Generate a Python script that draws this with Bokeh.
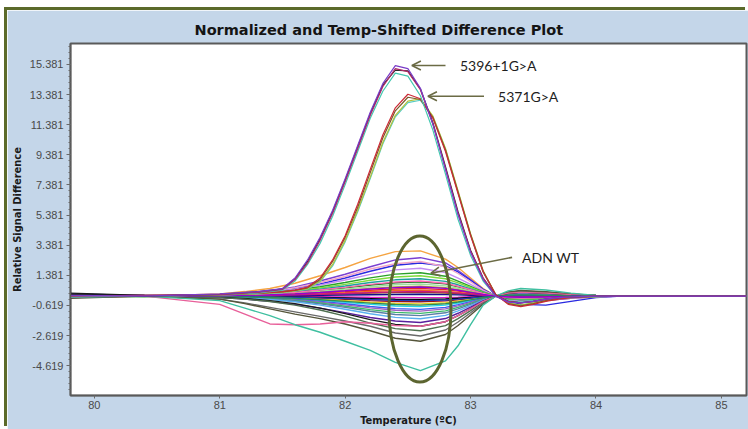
import numpy as np
from bokeh.plotting import figure
from bokeh.models import Range1d, FixedTicker, NumeralTickFormatter, Arrow, OpenHead
from bokeh.core.properties import value
from bokeh.embed import file_html
from bokeh.resources import INLINE

# ---------------------------------------------------------------- data
# temperature grid (deg C) shared by the wild-type difference curves
temps_wt = [79.8, 80.4, 81.0, 81.2, 81.4, 81.6, 81.8, 82.0, 82.2, 82.4, 82.6, 82.8,
            82.9, 83.0, 83.1, 83.2, 83.3, 83.4, 83.6, 83.8, 84.0, 84.2, 84.7, 85.2]

# temperature grid used by the mutant curves (finer around the peaks)
temps_mut = [79.8, 80.4, 81.0, 81.3, 81.5, 81.6, 81.7, 81.8, 81.9, 82.0, 82.1, 82.2,
             82.3, 82.4, 82.5, 82.6, 82.7, 82.8, 82.9, 83.0, 83.1, 83.2, 83.3, 83.4,
             83.5, 83.6, 83.7, 83.8, 84.0, 84.4, 85.2]

# wild-type samples (ADN WT): relative signal difference on temps_wt
wt_01 = [0.05, 0.0, 0.15, 0.3, 0.5, 0.85, 1.35, 1.9, 2.5, 2.95, 3.0, 2.45, 1.9, 1.2, 0.5, 0.0, -0.3, -0.4, -0.3, -0.15, -0.05, 0.0, 0.0, 0.0]
wt_02 = [0.0, 0.05, 0.1, 0.2, 0.35, 0.6, 1.0, 1.45, 1.95, 2.4, 2.55, 2.2, 1.7, 1.1, 0.45, 0.0, -0.3, -0.4, -0.3, -0.15, -0.05, 0.0, 0.0, 0.0]
wt_03 = [-0.05, 0.0, 0.1, 0.2, 0.3, 0.5, 0.8, 1.2, 1.65, 2.05, 2.2, 2.0, 1.6, 1.05, 0.45, 0.0, -0.35, -0.55, -0.6, -0.35, -0.1, 0.0, 0.0, 0.0]
wt_04 = [0.0, 0.0, 0.05, 0.15, 0.3, 0.55, 0.9, 1.3, 1.8, 2.15, 2.3, 1.95, 1.5, 0.95, 0.4, 0.0, -0.25, -0.35, -0.25, -0.12, -0.04, 0.0, 0.0, 0.0]
wt_05 = [0.05, 0.0, 0.08, 0.15, 0.28, 0.46, 0.74, 1.07, 1.44, 1.74, 1.85, 1.57, 1.2, 0.78, 0.33, 0.0, -0.22, -0.3, -0.22, -0.11, -0.04, 0.0, 0.0, 0.0]
wt_06 = [0.0, -0.05, 0.06, 0.12, 0.23, 0.39, 0.62, 0.9, 1.21, 1.46, 1.55, 1.32, 1.0, 0.65, 0.28, 0.0, -0.18, -0.25, -0.19, -0.09, -0.03, 0.0, 0.0, 0.0]
wt_07 = [0.0, 0.0, 0.05, 0.11, 0.2, 0.34, 0.54, 0.78, 1.05, 1.27, 1.35, 1.15, 0.88, 0.57, 0.24, 0.0, -0.16, -0.22, -0.16, -0.08, -0.03, 0.0, 0.0, 0.0]
wt_08 = [0.05, 0.05, 0.05, 0.09, 0.17, 0.29, 0.46, 0.67, 0.9, 1.08, 1.15, 0.98, 0.75, 0.48, 0.21, 0.0, -0.14, -0.18, -0.14, -0.07, -0.02, 0.0, 0.03, 0.0]
wt_09 = [0.1, 0.0, 0.04, 0.08, 0.14, 0.24, 0.38, 0.55, 0.74, 0.89, 0.95, 0.81, 0.62, 0.4, 0.17, 0.0, -0.11, -0.15, -0.11, -0.06, -0.02, 0.0, 0.0, 0.0]
wt_10 = [0.0, 0.05, 0.03, 0.06, 0.12, 0.2, 0.32, 0.46, 0.62, 0.75, 0.8, 0.68, 0.52, 0.34, 0.14, 0.0, -0.1, -0.13, -0.1, -0.05, -0.02, 0.0, 0.0, 0.0]
wt_11 = [0.0, 0.0, 0.03, 0.05, 0.1, 0.16, 0.26, 0.38, 0.51, 0.61, 0.65, 0.55, 0.42, 0.27, 0.12, 0.0, -0.08, -0.1, -0.08, -0.04, -0.01, 0.0, 0.0, 0.0]
wt_12 = [-0.05, 0.0, 0.02, 0.04, 0.08, 0.13, 0.2, 0.29, 0.39, 0.47, 0.5, 0.43, 0.33, 0.21, 0.09, 0.0, -0.06, -0.08, -0.06, -0.03, -0.01, 0.0, 0.0, 0.0]
wt_13 = [0.0, 0.0, 0.02, 0.03, 0.06, 0.1, 0.15, 0.22, 0.3, 0.36, 0.38, 0.32, 0.25, 0.16, 0.07, 0.0, -0.05, -0.06, -0.05, -0.02, 0.0, 0.0, 0.0, 0.0]
wt_14 = [0.05, 0.0, 0.01, 0.02, 0.04, 0.06, 0.1, 0.15, 0.2, 0.24, 0.25, 0.21, 0.16, 0.11, 0.05, 0.0, -0.03, -0.04, -0.03, -0.02, 0.0, 0.0, 0.0, 0.0]
wt_15 = [0.15, 0.05, 0.0, 0.01, 0.02, 0.03, 0.05, 0.07, 0.09, 0.11, 0.12, 0.1, 0.08, 0.05, 0.02, 0.0, -0.02, -0.02, -0.02, -0.01, 0.0, 0.0, 0.0, 0.0]
wt_16 = [0.0, 0.0, 0.0, -0.01, -0.02, -0.03, -0.04, -0.06, -0.08, -0.09, -0.1, -0.09, -0.07, -0.04, -0.02, 0.0, 0.01, 0.01, 0.01, 0.0, 0.0, 0.0, 0.0, 0.0]
wt_17 = [0.1, 0.0, -0.01, -0.02, -0.03, -0.06, -0.09, -0.13, -0.17, -0.21, -0.22, -0.19, -0.14, -0.09, -0.04, 0.0, 0.02, 0.03, 0.02, 0.01, 0.0, 0.0, 0.0, 0.0]
wt_18 = [-0.1, 0.0, -0.02, -0.03, -0.06, -0.1, -0.15, -0.22, -0.3, -0.36, -0.38, -0.32, -0.25, -0.16, -0.07, 0.0, 0.04, 0.05, 0.04, 0.02, 0.0, 0.0, 0.0, 0.0]
wt_19 = [0.0, 0.0, -0.02, -0.04, -0.08, -0.13, -0.21, -0.3, -0.41, -0.49, -0.52, -0.44, -0.34, -0.22, -0.09, 0.0, 0.05, 0.07, 0.05, 0.03, 0.01, 0.0, 0.0, 0.0]
wt_20 = [0.05, 0.0, -0.03, -0.06, -0.11, -0.18, -0.28, -0.41, -0.55, -0.66, -0.7, -0.6, -0.46, -0.29, -0.13, 0.0, 0.07, 0.09, 0.07, 0.04, 0.01, 0.0, 0.0, 0.0]
wt_21 = [0.0, 0.0, -0.04, -0.07, -0.13, -0.22, -0.35, -0.51, -0.69, -0.83, -0.88, -0.75, -0.57, -0.37, -0.16, 0.0, 0.08, 0.11, 0.09, 0.05, 0.02, 0.0, 0.0, 0.0]
wt_22 = [-0.05, 0.0, -0.04, -0.08, -0.15, -0.25, -0.4, -0.58, -0.78, -0.94, -1.0, -0.85, -0.65, -0.42, -0.18, 0.0, 0.09, 0.13, 0.1, 0.05, 0.02, 0.0, 0.0, 0.0]
wt_23 = [0.0, 0.0, -0.05, -0.09, -0.17, -0.29, -0.46, -0.67, -0.9, -1.08, -1.15, -0.98, -0.75, -0.48, -0.21, 0.0, 0.1, 0.15, 0.11, 0.06, 0.02, 0.0, 0.0, 0.0]
wt_24 = [0.0, 0.05, -0.05, -0.1, -0.2, -0.33, -0.52, -0.75, -1.01, -1.22, -1.3, -1.11, -0.85, -0.55, -0.23, 0.0, 0.12, 0.17, 0.13, 0.07, 0.03, 0.0, 0.0, 0.0]
wt_25 = [0.0, 0.0, -0.06, -0.12, -0.23, -0.38, -0.6, -0.87, -1.17, -1.41, -1.5, -1.28, -0.98, -0.63, -0.27, 0.0, 0.14, 0.2, 0.15, 0.08, 0.03, 0.0, 0.0, 0.0]
wt_26 = [0.0, 0.0, -0.1, -0.2, -0.35, -0.55, -0.8, -1.1, -1.42, -1.65, -1.75, -1.49, -1.14, -0.74, -0.32, 0.0, 0.16, 0.23, 0.17, 0.09, 0.03, 0.0, 0.0, 0.0]
wt_27 = [0.2, 0.05, -0.08, -0.16, -0.3, -0.5, -0.8, -1.16, -1.56, -1.88, -2.0, -1.7, -1.3, -0.84, -0.36, 0.0, 0.18, 0.26, 0.2, 0.1, 0.04, 0.0, 0.0, 0.0]
wt_28 = [0.0, 0.0, -0.1, -0.2, -0.36, -0.6, -0.92, -1.33, -1.79, -2.16, -2.3, -1.96, -1.5, -0.97, -0.41, 0.0, 0.21, 0.3, 0.22, 0.12, 0.04, 0.0, 0.0, 0.0]
wt_29 = [0.0, 0.0, -0.2, -0.45, -0.75, -1.05, -1.35, -1.65, -2.0, -2.45, -2.65, -2.25, -1.72, -1.11, -0.48, 0.0, 0.24, 0.34, 0.26, 0.13, 0.05, 0.0, 0.0, 0.0]
wt_30 = [-0.15, 0.0, -0.2, -0.5, -0.85, -1.2, -1.5, -1.85, -2.3, -2.8, -3.0, -2.55, -1.95, -1.26, -0.54, 0.0, 0.27, 0.38, 0.29, 0.15, 0.05, 0.0, 0.0, 0.0]
wt_31 = [0.0, 0.0, -0.55, -1.2, -1.85, -1.9, -1.85, -1.7, -1.8, -1.95, -2.0, -1.7, -1.3, -0.85, -0.35, 0.0, 0.2, 0.25, 0.2, 0.1, 0.03, 0.0, 0.0, 0.0]
wt_32 = [0.0, 0.0, -0.3, -0.8, -1.3, -1.9, -2.4, -3.0, -3.6, -4.4, -4.95, -4.3, -3.3, -1.9, -0.6, 0.0, 0.35, 0.5, 0.4, 0.2, 0.05, 0.0, 0.0, 0.0]
wt_33 = [0.0, 0.0, 0.01, 0.02, 0.05, 0.08, 0.12, 0.17, 0.23, 0.28, 0.3, 0.26, 0.2, 0.13, 0.05, 0.0, -0.03, -0.04, -0.03, -0.02, 0.0, 0.0, 0.0, 0.0]
wt_34 = [0.0, 0.0, -0.01, -0.02, -0.05, -0.08, -0.12, -0.17, -0.23, -0.28, -0.3, -0.26, -0.2, -0.13, -0.05, 0.0, 0.03, 0.04, 0.03, 0.02, 0.0, 0.0, 0.0, 0.0]
wt_35 = [0.0, 0.0, 0.04, 0.08, 0.15, 0.25, 0.4, 0.58, 0.78, 0.94, 1.0, 0.85, 0.65, 0.42, 0.18, 0.0, -0.09, -0.13, -0.1, -0.05, -0.02, 0.0, 0.0, 0.0]
wt_36 = [0.0, 0.0, -0.02, -0.05, -0.09, -0.15, -0.24, -0.35, -0.47, -0.56, -0.6, -0.51, -0.39, -0.25, -0.11, 0.0, 0.06, 0.08, 0.06, 0.03, 0.01, 0.0, 0.0, 0.0]
wt_37 = [0.0, 0.0, 0.02, 0.05, 0.09, 0.15, 0.24, 0.35, 0.47, 0.56, 0.6, 0.51, 0.39, 0.25, 0.11, 0.0, -0.06, -0.08, -0.06, -0.03, -0.01, 0.0, 0.0, 0.0]

wt_series = [wt_01, wt_02, wt_03, wt_04, wt_05, wt_06, wt_07, wt_08, wt_09, wt_10,
             wt_11, wt_12, wt_13, wt_14, wt_15, wt_16, wt_17, wt_18, wt_19, wt_20,
             wt_21, wt_22, wt_23, wt_24, wt_25, wt_26, wt_27, wt_28, wt_29, wt_30,
             wt_31, wt_32, wt_33, wt_34, wt_35, wt_36, wt_37]
wt_colors = ["#f5a442", "#7b3fd1", "#2a2ae0", "#f2a6c8", "#c38bf2", "#2aa02a", "#7fdc3c",
             "#1f9e9e", "#0b6b0b", "#9fe09f", "#a8a83a", "#e3262a", "#f26522", "#8b4513",
             "#10108a", "#e020c8", "#000000", "#a01010", "#e8d020", "#22d8e8", "#3a5ef0",
             "#a060c0", "#3cb86a", "#5b7fa6", "#5ab0f0", "#5a1f9e", "#1a1a1a", "#4f6f4f",
             "#6a6a6a", "#55553a", "#e8609a", "#3fbfa0", "#c71585", "#1e3cb4", "#ff69b4",
             "#2e8b57", "#9400d3"]

# 5396+1G>A samples on temps_mut
m1_a = [0.05, 0.0, 0.15, 0.3, 0.5, 1.2, 2.4, 3.9, 5.7, 7.8, 10.0, 12.2, 14.1, 15.3, 15.1, 13.8, 11.4, 8.4, 5.4, 2.9, 1.1, 0.0, -0.4, -0.45, -0.35, -0.2, -0.1, -0.05, 0.0, 0.0, 0.0]
m1_b = [0.0, 0.05, 0.1, 0.25, 0.45, 1.1, 2.2, 3.7, 5.5, 7.6, 9.8, 12.0, 13.9, 15.1, 14.9, 13.7, 11.4, 8.5, 5.5, 3.0, 1.2, 0.05, -0.35, -0.45, -0.35, -0.2, -0.1, -0.05, 0.0, 0.0, 0.0]
m1_c = [0.1, 0.0, 0.12, 0.28, 0.48, 1.15, 2.3, 3.8, 5.6, 7.7, 9.9, 12.1, 14.0, 15.0, 14.95, 13.75, 11.5, 8.6, 5.6, 3.05, 1.2, 0.05, -0.35, -0.45, -0.35, -0.2, -0.1, -0.05, 0.0, 0.0, 0.0]
m1_d = [-0.05, 0.0, 0.1, 0.2, 0.4, 1.0, 2.1, 3.5, 5.3, 7.4, 9.6, 11.8, 13.6, 14.8, 14.6, 13.3, 11.0, 8.1, 5.1, 2.7, 1.0, 0.0, -0.3, -0.4, -0.3, -0.2, -0.1, -0.05, 0.0, 0.0, 0.0]

# 5371G>A samples on temps_mut
m2_a = [0.0, 0.05, 0.1, 0.2, 0.3, 0.4, 0.6, 1.2, 2.4, 4.0, 6.1, 8.4, 10.7, 12.5, 13.4, 13.1, 11.8, 9.6, 6.8, 4.0, 1.6, 0.1, -0.55, -0.7, -0.55, -0.35, -0.2, -0.1, 0.0, 0.0, 0.0]
m2_b = [0.05, 0.0, 0.1, 0.18, 0.28, 0.38, 0.55, 1.1, 2.3, 3.9, 5.9, 8.2, 10.5, 12.3, 13.2, 13.05, 11.85, 9.7, 6.9, 4.1, 1.65, 0.1, -0.5, -0.65, -0.5, -0.3, -0.15, -0.05, 0.0, 0.0, 0.0]
m2_c = [0.0, 0.0, 0.08, 0.15, 0.25, 0.35, 0.5, 1.0, 2.1, 3.7, 5.7, 7.9, 10.2, 12.0, 12.95, 13.1, 11.95, 9.8, 7.0, 4.15, 1.7, 0.1, -0.45, -0.6, -0.45, -0.3, -0.15, -0.05, 0.0, 0.0, 0.0]
m2_d = [-0.05, 0.0, 0.08, 0.15, 0.22, 0.32, 0.48, 0.95, 2.0, 3.6, 5.6, 7.8, 10.1, 11.9, 12.85, 13.0, 11.9, 9.75, 6.9, 4.05, 1.6, 0.05, -0.45, -0.6, -0.45, -0.3, -0.15, -0.05, 0.0, 0.0, 0.0]

mut_series = [m2_d, m2_c, m2_b, m2_a, m1_d, m1_c, m1_b, m1_a]
mut_colors = ["#55ccc4", "#b5c23a", "#7a5a2a", "#cc2a36", "#44c8b0", "#2a2a2a", "#b02a66", "#7a3cc8"]

# axis ticks
x_ticks = [80, 81, 82, 83, 84, 85]
y_ticks = [-4.619, -2.619, -0.619, 1.381, 3.381, 5.381, 7.381, 9.381, 11.381, 13.381, 15.381]

# annotations: label text, label anchor (x, y), arrow start, arrow end
ann_texts = ["5396+1G>A", "5371G>A", "ADN WT"]
ann_text_x = [82.915, 83.219, 83.41]
ann_text_y = [15.31, 13.27, 2.57]
arrow_x0 = [82.80, 83.107, 83.331]
arrow_y0 = [15.31, 13.27, 2.57]
arrow_x1 = [82.532, 82.66, 82.684]
arrow_y1 = [15.31, 13.27, 1.52]
# ring drawn round the wild-type bundle
ring_x, ring_y, ring_w, ring_h = 82.596, -0.86, 0.495, 9.70

# ---------------------------------------------------------------- figure
PANEL = "#c4d6e9"
p = figure(width=741, height=419, output_backend="svg", toolbar_location=None,
           x_range=Range1d(79.81, 85.2), y_range=Range1d(-6.6, 16.77),
           min_border_left=63, min_border_right=2, min_border_top=33, min_border_bottom=32,
           background_fill_color="white", border_fill_color=PANEL)
p.margin = (10, 0, 0, 7)
p.styles = {"box-shadow": "-3px -3px 0 0 #5b6a2a"}

p.title.text = "Normalized and Temp-Shifted Difference Plot"
p.title.align = "left"
p.title.offset = 124
p.title.text_font = "DejaVu Sans"
p.title.text_font_style = "bold"
p.title.text_font_size = "14.5px"
p.title.text_color = "#141414"
p.title.standoff = 11

p.outline_line_color = "#5a5a5a"
p.outline_line_width = 2
p.xgrid.visible = False
p.ygrid.visible = False

label_font = "'Liberation Sans Narrow', 'DejaVu Sans Condensed', sans-serif"
for ax in (p.xaxis[0], p.yaxis[0]):
    ax.axis_line_color = "#5a5a5a"
    ax.axis_line_width = 1.5
    ax.major_tick_line_color = "#6a6a6a"
    ax.minor_tick_line_color = "#6a6a6a"
    ax.major_label_text_font = "Liberation Sans"
    ax.major_label_text_font_size = "11px"
    ax.major_label_text_color = "#4a4a4a"
    ax.axis_label_text_font = label_font
    ax.axis_label_text_font_style = "bold"
    ax.axis_label_text_font_size = "11px"
    ax.axis_label_text_color = "#1a1a1a"

p.xaxis.ticker = FixedTicker(ticks=x_ticks)
p.xaxis.major_tick_in = 0
p.xaxis.major_tick_out = 3
p.xaxis.minor_tick_line_color = None
p.xaxis.major_label_standoff = 2
p.xaxis.axis_label = "Temperature (ºC)"
p.xaxis.axis_label_standoff = 2

minor_y = list(np.arange(-6.619, 16.8, 0.4))
p.yaxis.ticker = FixedTicker(ticks=y_ticks, minor_ticks=minor_y)
p.yaxis.formatter = NumeralTickFormatter(format="0.000")
p.yaxis.major_tick_in = 0
p.yaxis.major_tick_out = 4
p.yaxis.minor_tick_in = 0
p.yaxis.minor_tick_out = 2
p.yaxis.major_label_standoff = 3
p.yaxis.axis_label = "Relative Signal Difference"
p.yaxis.axis_label_standoff = 3

# wild-type bundle first, the two mutant groups on top
for ys, c in zip(wt_series, wt_colors):
    p.line(temps_wt, ys, line_color=c, line_width=1.4)
for ys, c in zip(mut_series, mut_colors):
    p.line(temps_mut, ys, line_color=c, line_width=1.2)

# ring and arrows
p.ellipse(x=[ring_x], y=[ring_y], width=[ring_w], height=[ring_h],
          fill_color=None, line_color="#5c6530", line_width=3)
for x0, y0, x1, y1 in zip(arrow_x0, arrow_y0, arrow_x1, arrow_y1):
    p.add_layout(Arrow(x_start=x0, y_start=y0, x_end=x1, y_end=y1,
                       line_color="#6b6b45", line_width=1.6,
                       end=OpenHead(size=9, line_color="#6b6b45", line_width=1.6)))
p.text(x=ann_text_x, y=ann_text_y, text=ann_texts, text_font=value("Lato"),
       text_font_size="14px", text_color="#1e1e1e", text_baseline="middle", text_align="left")

open("out.html", "w").write(file_html(p, INLINE))
